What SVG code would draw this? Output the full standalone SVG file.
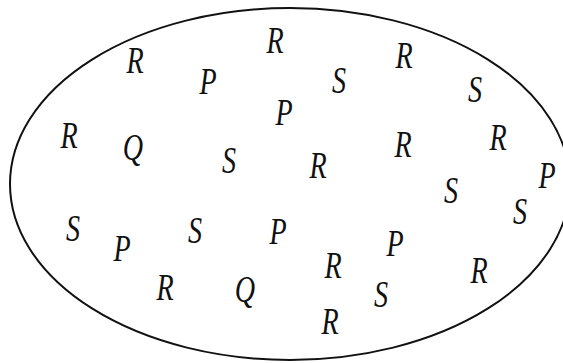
<svg xmlns="http://www.w3.org/2000/svg" width="563" height="363" viewBox="0 0 563 363">
<style>
.t{font-family:"Liberation Serif","Times New Roman",serif;font-style:italic;font-size:37px;fill:#111;text-anchor:middle}
</style>
<rect width="563" height="363" fill="#fff"/>
<ellipse cx="290" cy="184" rx="280" ry="176" fill="none" stroke="#111" stroke-width="2"/>
<g id="letters">
<text class="t" transform="translate(135 73) scale(0.76 1)">R</text>
<text class="t" transform="translate(275 53) scale(0.76 1)">R</text>
<text class="t" transform="translate(404 68) scale(0.76 1)">R</text>
<text class="t" transform="translate(69 148) scale(0.76 1)">R</text>
<text class="t" transform="translate(498 150) scale(0.76 1)">R</text>
<text class="t" transform="translate(403 157) scale(0.76 1)">R</text>
<text class="t" transform="translate(318 178) scale(0.76 1)">R</text>
<text class="t" transform="translate(333 278) scale(0.76 1)">R</text>
<text class="t" transform="translate(330 334) scale(0.76 1)">R</text>
<text class="t" transform="translate(479 283) scale(0.76 1)">R</text>
<text class="t" transform="translate(165 300) scale(0.76 1)">R</text>
<text class="t" transform="translate(208 94) scale(0.76 1)">P</text>
<text class="t" transform="translate(284 125) scale(0.76 1)">P</text>
<text class="t" transform="translate(547 188) scale(0.76 1)">P</text>
<text class="t" transform="translate(395 256) scale(0.76 1)">P</text>
<text class="t" transform="translate(122 261) scale(0.76 1)">P</text>
<text class="t" transform="translate(278 244) scale(0.76 1)">P</text>
<text class="t" transform="translate(339 93) scale(0.76 1)">S</text>
<text class="t" transform="translate(475 102) scale(0.76 1)">S</text>
<text class="t" transform="translate(229 173) scale(0.76 1)">S</text>
<text class="t" transform="translate(451 203) scale(0.76 1)">S</text>
<text class="t" transform="translate(520 224) scale(0.76 1)">S</text>
<text class="t" transform="translate(73 241) scale(0.76 1)">S</text>
<text class="t" transform="translate(195 243) scale(0.76 1)">S</text>
<text class="t" transform="translate(381 307) scale(0.76 1)">S</text>
<text class="t" transform="translate(133 160) scale(0.76 1)">Q</text>
<text class="t" transform="translate(245 302) scale(0.76 1)">Q</text>
</g>
</svg>
